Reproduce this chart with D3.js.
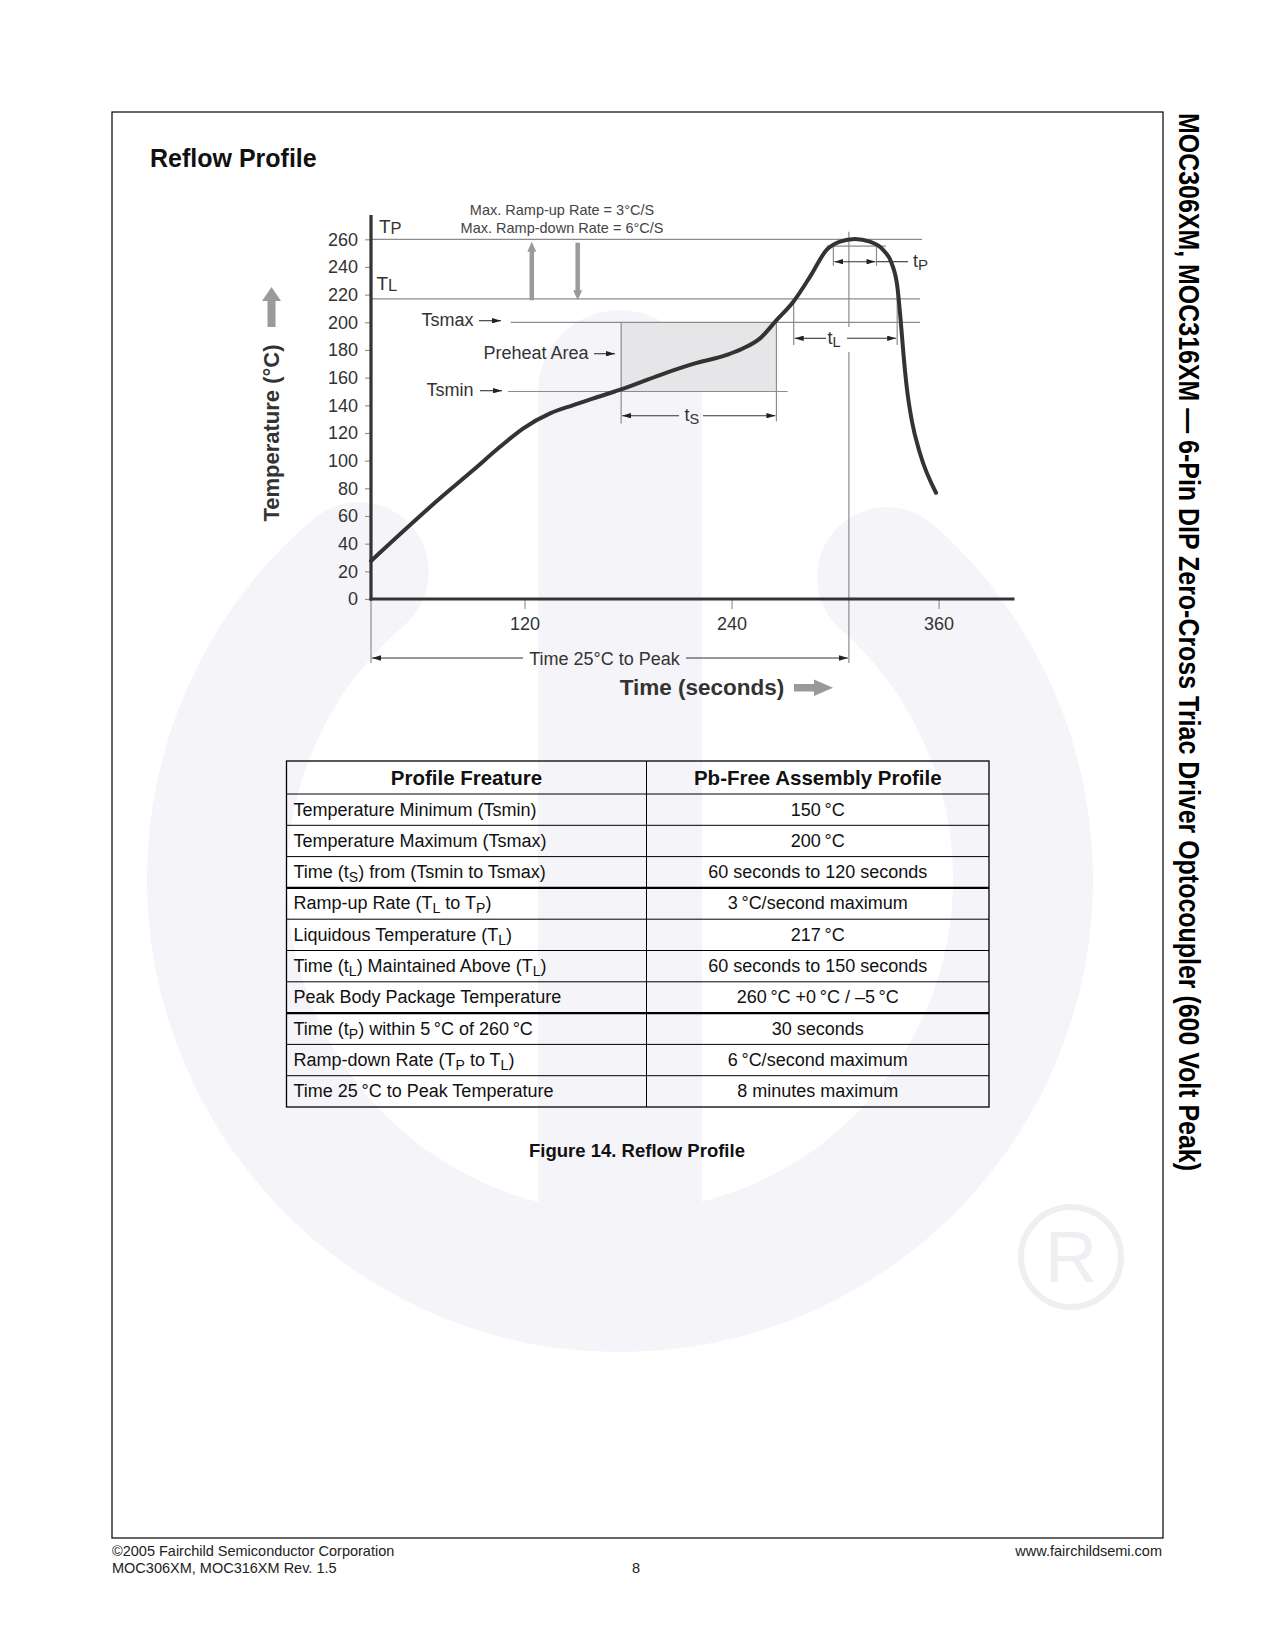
<!DOCTYPE html>
<html lang="en">
<head>
  <meta charset="UTF-8" />
  <title>Reflow Profile</title>
  <style>
    body {
      margin: 0;
      background: #fff;
    }
    svg {
      display: block;
      font-family: "Liberation Sans", Arial, Helvetica, sans-serif;
    }
  </style>
</head>
<body>
  <svg id="page" width="1275" height="1650" viewBox="0 0 1275 1650" xmlns="http://www.w3.org/2000/svg"></svg>

  <script src="https://d3js.org/d3.v7.min.js"></script>
  <script>
    // ---- data ----
    const profileTime = [31, 71, 90.3, 105.8, 119.3, 134.8, 148.3, 160, 175.5, 198.5, 217.8, 237.2, 246.8, 256.5, 266.2,
      275.8, 285.5, 295.1, 302.8, 311.5, 320.2, 327.9, 332.8, 336.1, 338, 339.6, 341.5, 344.4, 349.2, 358.5];
    const profileTemp = [27.5, 72.8, 93.2, 110, 123.4, 134.2, 140.2, 145, 151.3, 161.9, 169.9, 176.4, 181.2, 188.4, 201.7,
      214.9, 233, 252.3, 258.3, 260.2, 258.3, 252.3, 242.6, 225.7, 201.7, 177.6, 153.5, 129.4, 105.3, 76.8];

    const yTickValues = [0, 20, 40, 60, 80, 100, 120, 140, 160, 180, 200, 220, 240, 260];
    const xTickValues = [120, 240, 360];

    const T_PEAK = 260, T_PEAK5 = 255, T_LIQ = 217, TS_MAX = 200, TS_MIN = 150;
    const tsWindow = [176, 266];   // preheat (Tsmin -> Tsmax)
    const tLWindow = [276, 336];   // above liquidus
    const tpWindow = [299, 324];   // within 5 C of peak
    const tPeak = 308;

    const tableHeader = ["Profile Freature", "Pb-Free Assembly Profile"];
    const tableFeatures = [
      "Temperature Minimum (Tsmin)",
      "Temperature Maximum (Tsmax)",
      "Time (t_S) from (Tsmin to Tsmax)",
      "Ramp-up Rate (T_L to T_P)",
      "Liquidous Temperature (T_L)",
      "Time (t_L) Maintained Above (T_L)",
      "Peak Body Package Temperature",
      "Time (t_P) within 5\u2009°C of 260\u2009°C",
      "Ramp-down Rate (T_P to T_L)",
      "Time 25\u2009°C to Peak Temperature"
    ];
    const tableValues = [
      "150\u2009°C",
      "200\u2009°C",
      "60 seconds to 120 seconds",
      "3\u2009°C/second maximum",
      "217\u2009°C",
      "60 seconds to 150 seconds",
      "260\u2009°C +0\u2009°C / \u20135\u2009°C",
      "30 seconds",
      "6\u2009°C/second maximum",
      "8 minutes maximum"
    ];
    const thickAfter = [2, 6]; // heavier rule under these rows

    // ---- setup ----
    const svg = d3.select("#page");
    svg.append("rect").attr("width", 1275).attr("height", 1650).attr("fill", "#fff");

    const defs = svg.append("defs");
    defs.append("marker")
      .attr("id", "ah")
      .attr("viewBox", "0 0 10 6")
      .attr("refX", 10).attr("refY", 3)
      .attr("markerWidth", 9).attr("markerHeight", 5.4)
      .attr("markerUnits", "userSpaceOnUse")
      .attr("orient", "auto-start-reverse")
      .append("path").attr("d", "M0,0L10,3L0,6Z").attr("fill", "#222");

    // ---- watermark logo ----
    const wm = svg.append("g").attr("fill", "#f5f4f8").attr("stroke", "none");
    const cx = 620, cy = 879, rm = 403, ringW = 140;
    const aL = 49.6 * Math.PI / 180, aR = 48.5 * Math.PI / 180;
    const pL = [cx - rm * Math.cos(aL), cy - rm * Math.sin(aL)];
    const pR = [cx + rm * Math.cos(aR), cy - rm * Math.sin(aR)];
    wm.append("path")
      .attr("d", `M${pL[0]},${pL[1]} A${rm},${rm} 0 1 0 ${pR[0]},${pR[1]}`)
      .attr("fill", "none")
      .attr("stroke", "#f5f4f8")
      .attr("stroke-width", ringW)
      .attr("stroke-linecap", "round");
    wm.append("path")
      .attr("d", `M538,${cy + rm - ringW / 2 + 10} V392 A82,82 0 0 1 702,392 V${cy + rm - ringW / 2 + 10} Z`);
    wm.append("circle").attr("cx", 1071).attr("cy", 1257).attr("r", 50)
      .attr("fill", "none").attr("stroke", "#efeef2").attr("stroke-width", 6);
    wm.append("text").attr("x", 1071).attr("y", 1282).attr("text-anchor", "middle")
      .attr("font-size", 72).attr("fill", "#efeef2").text("R");

    // ---- page frame ----
    svg.append("rect").attr("x", 112).attr("y", 112).attr("width", 1051).attr("height", 1426)
      .attr("fill", "none").attr("stroke", "#000").attr("stroke-width", 1.2);

    svg.append("text").attr("x", 150).attr("y", 167)
      .attr("font-size", 25).attr("font-weight", "bold").attr("fill", "#111")
      .text("Reflow Profile");

    // ---- chart ----
    const x = d3.scaleLinear().domain([31, 404]).range([371, 1014.5]);
    const y = d3.scaleLinear().domain([0, 260]).range([599, 239.3]);
    const grey = "#8c8c8c", ink = "#333";
    const chart = svg.append("g");

    // preheat area
    chart.append("rect")
      .attr("x", x(tsWindow[0])).attr("y", y(TS_MAX))
      .attr("width", x(tsWindow[1]) - x(tsWindow[0]))
      .attr("height", y(TS_MIN) - y(TS_MAX))
      .attr("fill", "#e6e6e9");

    const hline = (T, t0, t1) => chart.append("line")
      .attr("x1", x(t0)).attr("x2", x(t1)).attr("y1", y(T)).attr("y2", y(T))
      .attr("stroke", grey).attr("stroke-width", 1.2);
    const vline = (t, y1, y2, col) => chart.append("line")
      .attr("x1", x(t)).attr("x2", x(t)).attr("y1", y1).attr("y2", y2)
      .attr("stroke", col || grey).attr("stroke-width", 1.2);

    hline(T_PEAK, 31, 350.4);
    hline(T_LIQ, 31, 349.2);
    hline(TS_MAX, 112, 349.2);
    hline(TS_MIN, 110.4, 272.5);
    hline(T_PEAK5, 295.1, 329.5);

    vline(tsWindow[0], y(TS_MAX), y(TS_MIN) + 32);
    vline(tsWindow[1], y(TS_MAX) - 4, y(TS_MIN) + 30);
    vline(tLWindow[0], y(T_LIQ) + 2, 345);
    vline(tLWindow[1], y(T_LIQ) - 9, 345);
    vline(tPeak, y(T_PEAK) - 7.6, 327);
    vline(tPeak, 352, 663);
    vline(tpWindow[0], y(T_PEAK5) - 0.5, y(T_PEAK5) + 19.5);
    vline(tpWindow[1], y(T_PEAK5) - 0.5, y(T_PEAK5) + 19.5);
    vline(31, 600, 663);

    // dimension arrows
    const seg = (x1, x2, yy, start, end) => {
      const l = chart.append("line").attr("x1", x1).attr("x2", x2).attr("y1", yy).attr("y2", yy)
        .attr("stroke", "#333").attr("stroke-width", 1.1);
      if (start) l.attr("marker-start", "url(#ah)");
      if (end) l.attr("marker-end", "url(#ah)");
    };
    const subLabel = (xx, yy, main, sub, subSize, subDy, size) => {
      const t = chart.append("text").attr("x", xx).attr("y", yy).attr("font-size", size || 18)
        .attr("fill", ink);
      t.append("tspan").text(main);
      t.append("tspan").attr("font-size", subSize).attr("dy", subDy).text(sub);
      return t;
    };

    // ts
    seg(x(tsWindow[0]) + 1, 679, 415.7, true, false);
    seg(703, x(tsWindow[1]) - 1, 415.7, false, true);
    subLabel(684.5, 421, "t", "S", 14.5, 3);
    // tL
    seg(x(tLWindow[0]) + 1, 826, 338.3, true, false);
    seg(847, x(tLWindow[1]) - 1, 338.3, false, true);
    subLabel(827.5, 344, "t", "L", 14.5, 3);
    // tp
    seg(x(tpWindow[0]) + 1, x(tpWindow[1]) - 1, 261.7, true, true);
    seg(x(tpWindow[1]), 908, 261.7, false, false);
    subLabel(913, 267, "t", "P", 15, 2.5);
    // time 25C to peak
    seg(x(31) + 1, 523, 658, true, false);
    seg(686, x(tPeak) - 1, 658, false, true);
    chart.append("text").attr("x", 604.5).attr("y", 664.5).attr("text-anchor", "middle")
      .attr("font-size", 18).attr("fill", ink).text("Time 25°C to Peak");

    // labels with pointers
    const pointer = (label, xEnd, yBase, a0, a1) => {
      chart.append("text").attr("x", xEnd).attr("y", yBase).attr("text-anchor", "end")
        .attr("font-size", 18).attr("fill", ink).text(label);
      seg(a0, a1, yBase - 4.8, false, true);
    };
    pointer("Tsmax", 473.5, 325.5, 479, 501);
    pointer("Preheat Area", 588.5, 358.5, 594, 615);
    pointer("Tsmin", 473.5, 395.5, 480, 502);

    subLabel(379, 232.5, "T", "P", 16.5, 1, 19);
    subLabel(376.5, 289.5, "T", "L", 16.5, 1.5, 19);

    // ramp rate notes + grey arrows
    chart.append("text").attr("x", 562).attr("y", 215).attr("text-anchor", "middle")
      .attr("font-size", 14.5).attr("fill", "#444").text("Max. Ramp-up Rate = 3°C/S");
    chart.append("text").attr("x", 562).attr("y", 233.3).attr("text-anchor", "middle")
      .attr("font-size", 14.5).attr("fill", "#444").text("Max. Ramp-down Rate = 6°C/S");

    const vArrow = (xx, yTail, yTip, shaft, headW, headL, col) => {
      const dir = yTip < yTail ? 1 : -1;
      const yh = yTip + dir * headL;
      chart.append("path")
        .attr("d", `M${xx - shaft / 2},${yTail} V${yh} H${xx - headW / 2} L${xx},${yTip} L${xx + headW / 2},${yh} H${xx + shaft / 2} V${yTail} Z`)
        .attr("fill", col);
    };
    vArrow(x(124.2), y(T_LIQ) + 1.5, y(T_PEAK) + 2.5, 4.5, 9, 10, "#9a9a9a");
    vArrow(x(150.8), y(T_PEAK) + 3.5, y(T_LIQ) + 1.5, 4.5, 9, 10, "#9a9a9a");

    // axes
    const yAxis = chart.append("g").attr("transform", `translate(${x(31)},0)`)
      .call(d3.axisLeft(y).tickValues(yTickValues).tickSize(6).tickPadding(7));
    const xAxis = chart.append("g").attr("transform", `translate(0,${y(0)})`)
      .call(d3.axisBottom(x).tickValues(xTickValues).tickSize(10).tickPadding(8));
    [yAxis, xAxis].forEach(g => {
      g.select(".domain").remove();
      g.selectAll(".tick line").attr("stroke", grey).attr("stroke-width", 1.1);
      g.selectAll(".tick text").attr("font-size", 18).attr("fill", ink)
        .attr("font-family", "\"Liberation Sans\", Arial, Helvetica, sans-serif");
    });
    chart.append("line").attr("x1", x(31)).attr("x2", x(31)).attr("y1", 215).attr("y2", y(0) + 1.5)
      .attr("stroke", ink).attr("stroke-width", 3.2);
    chart.append("line").attr("x1", x(31) - 1.5).attr("x2", x(404)).attr("y1", y(0)).attr("y2", y(0))
      .attr("stroke", ink).attr("stroke-width", 3.2);

    // profile curve
    const line = d3.line()
      .x((d, i) => x(profileTime[i]))
      .y(d => y(d))
      .curve(d3.curveMonotoneX);
    chart.append("path")
      .datum(profileTemp)
      .attr("d", line)
      .attr("fill", "none")
      .attr("stroke", ink)
      .attr("stroke-width", 4)
      .attr("stroke-linejoin", "round")
      .attr("stroke-linecap", "round");

    // axis titles
    chart.append("text")
      .attr("transform", "translate(279,433) rotate(-90)")
      .attr("text-anchor", "middle")
      .attr("font-size", 22).attr("font-weight", "bold").attr("fill", ink)
      .text("Temperature (°C)");
    chart.append("path")
      .attr("d", "M267.5,327 V301 H262 L271.5,287 L281,301 H275.5 V327 Z")
      .attr("fill", "#9a9a9a");
    chart.append("text").attr("x", 702).attr("y", 695).attr("text-anchor", "middle")
      .attr("font-size", 22.5).attr("font-weight", "bold").attr("fill", ink)
      .text("Time (seconds)");
    chart.append("path")
      .attr("d", "M794,684 H814 V679.5 L833,687.8 L814,696 V691.5 H794 Z")
      .attr("fill", "#9a9a9a");

    // ---- table ----
    const tbl = svg.append("g");
    const tx0 = 286.5, tx1 = 989, tSplit = 646.5, ty0 = 761, headH = 33, rowH = 31.3;
    const rowTop = i => ty0 + headH + i * rowH;
    const tyEnd = rowTop(tableFeatures.length);

    const rich = (sel, str) => {
      const parts = str.split(/(_[A-Za-z])/).filter(s => s.length);
      let inSub = false;
      parts.forEach(p => {
        if (p[0] === "_") {
          sel.append("tspan").attr("font-size", 14).attr("dy", 4).text(p.slice(1));
          inSub = true;
        } else {
          sel.append("tspan").attr("dy", inSub ? -4 : 0).text(p);
          inSub = false;
        }
      });
    };

    tableHeader.forEach((h, c) => {
      tbl.append("text")
        .attr("x", c === 0 ? (tx0 + tSplit) / 2 : (tSplit + tx1) / 2)
        .attr("y", ty0 + 23.5)
        .attr("text-anchor", "middle")
        .attr("font-size", 20.5).attr("font-weight", "bold").attr("fill", "#111")
        .text(h);
    });
    tableFeatures.forEach((f, i) => {
      const t = tbl.append("text").attr("x", tx0 + 7).attr("y", rowTop(i) + 21.5)
        .attr("font-size", 18).attr("fill", "#111");
      rich(t, f);
      tbl.append("text").attr("x", (tSplit + tx1) / 2).attr("y", rowTop(i) + 21.5)
        .attr("text-anchor", "middle").attr("font-size", 18).attr("fill", "#111")
        .text(tableValues[i]);
    });
    // rules
    d3.range(1, tableFeatures.length).concat([0]).forEach(i => {
      const thick = thickAfter.includes(i - 1);
      tbl.append("line").attr("x1", tx0).attr("x2", tx1)
        .attr("y1", rowTop(i)).attr("y2", rowTop(i))
        .attr("stroke", "#000").attr("stroke-width", thick ? 2.4 : 1);
    });
    tbl.append("line").attr("x1", tSplit).attr("x2", tSplit).attr("y1", ty0).attr("y2", tyEnd)
      .attr("stroke", "#000").attr("stroke-width", 1);
    tbl.append("rect").attr("x", tx0).attr("y", ty0).attr("width", tx1 - tx0).attr("height", tyEnd - ty0)
      .attr("fill", "none").attr("stroke", "#000").attr("stroke-width", 1.3);

    svg.append("text").attr("x", 637).attr("y", 1157).attr("text-anchor", "middle")
      .attr("font-size", 18.5).attr("font-weight", "bold").attr("fill", "#111")
      .text("Figure 14. Reflow Profile");

    // ---- side title ----
    svg.append("text")
      .attr("transform", "translate(1179,113) rotate(90)")
      .attr("font-family", "\"Liberation Sans Narrow\", \"Liberation Sans\", Arial, sans-serif")
      .attr("font-size", 29).attr("font-weight", "bold").attr("fill", "#000")
      .attr("textLength", 1058).attr("lengthAdjust", "spacingAndGlyphs")
      .text("MOC306XM, MOC316XM \u2014 6-Pin DIP Zero-Cross Triac Driver Optocoupler (600 Volt Peak)");

    // ---- footer ----
    const foot = svg.append("g").attr("font-size", 14.5).attr("fill", "#222");
    foot.append("text").attr("x", 112).attr("y", 1556).text("©2005 Fairchild Semiconductor Corporation");
    foot.append("text").attr("x", 112).attr("y", 1573).text("MOC306XM, MOC316XM Rev. 1.5");
    foot.append("text").attr("x", 636).attr("y", 1573).attr("text-anchor", "middle").text("8");
    foot.append("text").attr("x", 1162).attr("y", 1556).attr("text-anchor", "end").text("www.fairchildsemi.com");
  </script>
</body>
</html>
